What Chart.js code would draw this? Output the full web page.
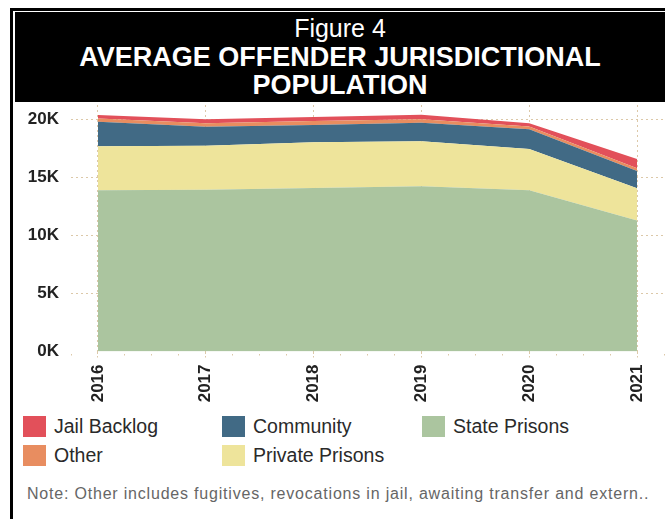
<!DOCTYPE html>
<html>
<head>
<meta charset="utf-8">
<script src="https://cdn.jsdelivr.net/npm/chart.js@4/dist/chart.umd.min.js"></script>
<style>
  body { margin: 0; width: 665px; height: 519px; position: relative; overflow: hidden; background: #fff;
         font-family: "Liberation Sans", Arial, sans-serif; }
  #frame { position: absolute; left: 10px; top: 8px; width: 700px; height: 508px;
           border-left: 3px solid #000; border-top: 3px solid #000; border-bottom: 1px solid #ddd; }
  #title { position: absolute; left: 15px; top: 12px; width: 650px; height: 90px; background: #000;
           color: #fff; text-align: center; line-height: 28.5px; padding-top: 2px; box-sizing: border-box; }
  #title .t1 { font-size: 25px; }
  #title .t2 { font-size: 27px; font-weight: bold; }
  #chartBox { position: absolute; left: 14px; top: 103px; }
  .leg { position: absolute; display: flex; align-items: center; font-size: 19.5px; color: #2a2a2a; height: 21px; }
  .leg span.sw { width: 23px; height: 21px; margin-right: 8px; display: inline-block; }
  #note { position: absolute; left: 27px; top: 485px; font-size: 16px; letter-spacing: 0.8px; color: #666; white-space: nowrap; }
</style>
</head>
<body>
<div id="frame"></div>
<div id="title">
  <div class="t1">Figure 4</div>
  <div class="t2">AVERAGE OFFENDER JURISDICTIONAL</div>
  <div class="t2">POPULATION</div>
</div>
<div id="chartBox"><canvas id="popChart" width="651" height="310"></canvas></div>
<div id="legend"></div>
<div id="note">Note: Other includes fugitives, revocations in jail, awaiting transfer and extern..</div>
<script>
// values (stacked areas, bottom to top)
const years = [2016, 2017, 2018, 2019, 2020, 2021];
const statePrisons = [13900, 13950, 14100, 14250, 13900, 11300];
const privatePrisons = [3800, 3790, 3930, 3870, 3560, 2770];
const community = [2110, 1640, 1500, 1600, 1700, 1490];
const other = [280, 300, 330, 300, 230, 230];
const jailBacklog = [300, 350, 350, 400, 290, 800];
const yTicks = [0, 5000, 10000, 15000, 20000];

const gridColor = '#dcc8a8';

function pts(vals) {
    return years.map((y, i) => ({ x: y, y: vals[i] }));
}

function area(label, vals, color, fill) {
    return {
        label: label,
        data: pts(vals),
        backgroundColor: color,
        borderColor: color,
        borderWidth: 0,
        pointRadius: 0,
        fill: fill,
        tension: 0
    };
}

// drop the extra room chart.js keeps for the edge labels
function noPad(s) {
    s.paddingLeft = 0;
    s.paddingRight = 0;
    s.paddingTop = 0;
    s.paddingBottom = 0;
}

const ctx = document.getElementById('popChart').getContext('2d');
const popChart = new Chart(ctx, {
    type: 'line',
    data: {
        datasets: [
            area('State Prisons', statePrisons, '#abc59f', 'origin'),
            area('Private Prisons', privatePrisons, '#eee49b', '-1'),
            area('Community', community, '#416a85', '-1'),
            area('Other', other, '#e88d60', '-1'),
            area('Jail Backlog', jailBacklog, '#e2505a', '-1')
        ]
    },
    options: {
        responsive: false,
        animation: false,
        devicePixelRatio: 1,
        layout: { padding: { top: 2, right: 1, left: 0, bottom: 0 } },
        plugins: { legend: { display: false }, tooltip: { enabled: false } },
        scales: {
            x: {
                type: 'linear',
                min: 2015.75,
                max: 2021.25,
                afterFit: s => { s.height = 61.5; noPad(s); },
                border: { display: false, dash: [2, 3] },
                grid: {
                    color: c => (c.tick && Number.isInteger(c.tick.value)) ? gridColor : 'rgba(0,0,0,0)',
                    tickColor: gridColor,
                    tickLength: 6,
                    tickBorderDash: c => (c.tick && Number.isInteger(c.tick.value)) ? [2, 2] : [0, 2, 1.5, 10]
                },
                ticks: {
                    stepSize: 0.25,
                    autoSkip: false,
                    maxRotation: 90,
                    minRotation: 90,
                    padding: 7,
                    color: '#222',
                    font: { family: '"Liberation Sans", Arial, sans-serif', size: 17, weight: 'bold' },
                    callback: v => Number.isInteger(v) ? String(v) : ''
                }
            },
            y: {
                stacked: true,
                min: 0,
                max: 21250,
                afterFit: s => { s.width = 57; noPad(s); },
                afterBuildTicks: s => { s.ticks = yTicks.map(v => ({ value: v })); },
                border: { display: false, dash: [2, 3] },
                grid: {
                    drawTicks: false,
                    color: c => (c.tick && c.tick.value === 0) ? 'rgba(0,0,0,0)' : gridColor
                },
                ticks: {
                    padding: 12,
                    color: '#222',
                    font: { family: '"Liberation Sans", Arial, sans-serif', size: 17, weight: 'bold' },
                    callback: v => (v / 1000) + 'K'
                }
            }
        }
    }
});

// legend laid out in columns like the original
const legendCols = [['Jail Backlog', 'Other'], ['Community', 'Private Prisons'], ['State Prisons']];
const colX = [23, 222, 422];
const rowY = [416, 445];
const legendEl = document.getElementById('legend');
legendCols.forEach((col, ci) => {
    col.forEach((name, ri) => {
        const ds = popChart.data.datasets.find(d => d.label === name);
        const item = document.createElement('div');
        item.className = 'leg';
        item.style.left = colX[ci] + 'px';
        item.style.top = rowY[ri] + 'px';
        item.innerHTML = '<span class="sw" style="background:' + ds.backgroundColor + '"></span>' + name;
        legendEl.appendChild(item);
    });
});
</script>
</body>
</html>
